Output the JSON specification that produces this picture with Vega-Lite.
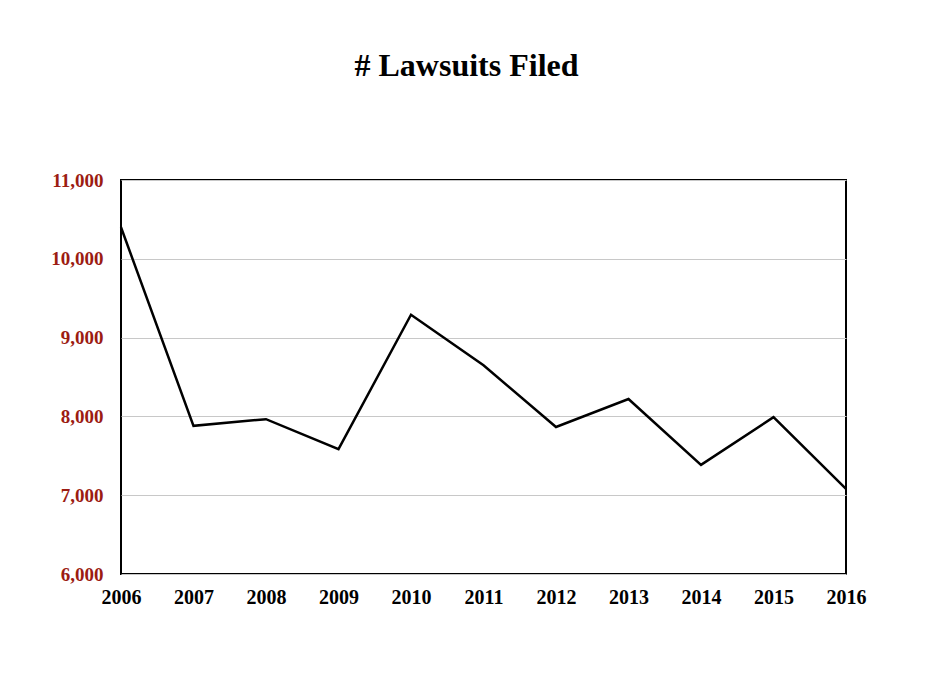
{
  "$schema": "https://vega.github.io/schema/vega-lite/v6.json",
  "autosize": {"type": "none"},
  "width": 725,
  "height": 394,
  "padding": {"left": 121, "top": 180, "right": 86, "bottom": 124},
  "background": "white",
  "title": {
    "text": "# Lawsuits Filed",
    "font": "Liberation Serif",
    "fontSize": 32,
    "fontWeight": "bold",
    "color": "black",
    "anchor": "middle",
    "dx": -17,
    "offset": 88
  },
  "data": {
    "values": [
      {"year": "2006", "lawsuits": 10400},
      {"year": "2007", "lawsuits": 7880},
      {"year": "2008", "lawsuits": 7965},
      {"year": "2009", "lawsuits": 7585},
      {"year": "2010", "lawsuits": 9290},
      {"year": "2011", "lawsuits": 8650},
      {"year": "2012", "lawsuits": 7865},
      {"year": "2013", "lawsuits": 8220},
      {"year": "2014", "lawsuits": 7385},
      {"year": "2015", "lawsuits": 7990},
      {"year": "2016", "lawsuits": 7080}
    ]
  },
  "mark": {"type": "line", "color": "black", "strokeWidth": 2.5, "strokeJoin": "miter"},
  "encoding": {
    "x": {
      "field": "year",
      "type": "ordinal",
      "scale": {"type": "point", "padding": 0},
      "axis": {
        "title": null,
        "labelAngle": 0,
        "labelFont": "Liberation Serif",
        "labelFontSize": 20,
        "labelFontWeight": "bold",
        "labelColor": "black",
        "labelPadding": 13,
        "ticks": false,
        "domain": false,
        "grid": false
      }
    },
    "y": {
      "field": "lawsuits",
      "type": "quantitative",
      "scale": {"domain": [6000, 11000], "nice": false, "zero": false},
      "axis": {
        "title": null,
        "values": [6000, 7000, 8000, 9000, 10000, 11000],
        "format": ",d",
        "labelFont": "Liberation Serif",
        "labelFontSize": 19,
        "labelFontWeight": "bold",
        "labelColor": "#9C1C12",
        "labelPadding": 18,
        "ticks": false,
        "domain": false,
        "grid": true,
        "gridColor": "#c8c8c8",
        "gridWidth": 1
      }
    }
  },
  "config": {
    "view": {"stroke": "black", "strokeWidth": 2}
  }
}
